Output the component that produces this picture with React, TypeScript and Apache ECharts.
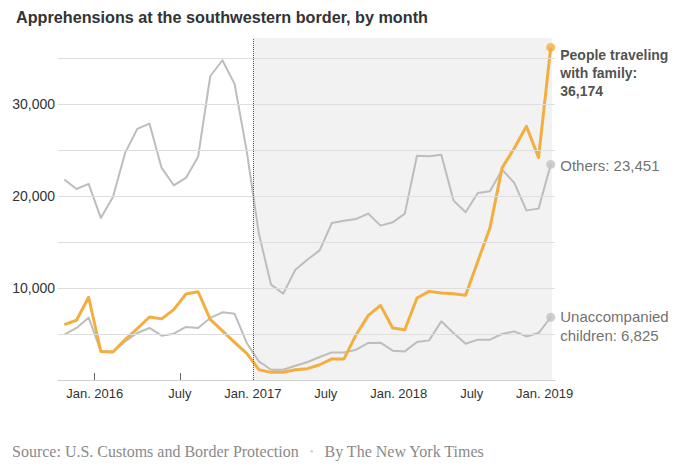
import React, { useEffect, useRef } from "react";
import * as echarts from "echarts";

// Months Oct 2015 .. Feb 2019 (index 0 .. 40)
const months: string[] = [
  "2015-10","2015-11","2015-12","2016-01","2016-02","2016-03","2016-04","2016-05","2016-06","2016-07","2016-08","2016-09",
  "2016-10","2016-11","2016-12","2017-01","2017-02","2017-03","2017-04","2017-05","2017-06","2017-07","2017-08","2017-09",
  "2017-10","2017-11","2017-12","2018-01","2018-02","2018-03","2018-04","2018-05","2018-06","2018-07","2018-08","2018-09",
  "2018-10","2018-11","2018-12","2019-01","2019-02",
];

const familyValues: number[] = [
  6030, 6500, 9000, 3100, 3050, 4400, 5600, 6850, 6650, 7650, 9350, 9600,
  6600, 5350, 4100, 2900, 1120, 830, 850, 1120, 1230, 1660, 2290, 2290,
  4930, 7030, 8120, 5660, 5470, 8920, 9640, 9470, 9390, 9210, 12900, 16540,
  23070, 25200, 27600, 24190, 36174,
];

const othersValues: number[] = [
  21800, 20780, 21330, 17630, 19910, 24700, 27310, 27890, 23070, 21180, 21980, 24270,
  33040, 34780, 32210, 24900, 15900, 10370, 9390, 12000, 13100, 14100, 17080, 17330,
  17520, 18100, 16790, 17150, 18100, 24400, 24330, 24500, 19540, 18240, 20350, 20520,
  22880, 21440, 18450, 18640, 23451,
];

const uacValues: number[] = [
  4930, 5660, 6780, 3150, 3080, 4200, 5110, 5660, 4820, 5040, 5770, 5660,
  6750, 7360, 7210, 4030, 2020, 1120, 1120, 1550, 1960, 2500, 3000, 3000,
  3300, 4030, 4060, 3190, 3110, 4130, 4310, 6380, 5110, 3950, 4390, 4390,
  5000, 5290, 4740, 5110, 6825,
];

const tickPositions: number[] = [2.5, 9.5, 15.5, 21.5, 27.5, 33.5, 39.5];
const tickLabels: string[] = ["Jan. 2016", "July", "Jan. 2017", "July", "Jan. 2018", "July", "Jan. 2019"];
const gridValues: number[] = [5000, 10000, 15000, 20000, 25000, 30000, 35000];
const inaugurationX = 15.5;

const ORANGE = "#f4ae3f";
const GRAY = "#bdbdbd";
const FONT = "'Liberation Sans', Arial, sans-serif";

const fmt = (v: number) => v.toLocaleString("en-US");

export default function App() {
  const ref = useRef<HTMLDivElement>(null);

  useEffect(() => {
    document.body.style.margin = "0";
    if (!ref.current) return;
    const chart = echarts.init(ref.current, null, { renderer: "svg" });
    const last = months.length - 1;
    const toPairs = (arr: number[]) => arr.map((v, i) => [i, v]);

    chart.setOption({
      animation: false,
      backgroundColor: "#ffffff",
      textStyle: { fontFamily: FONT },
      title: {
        text: "Apprehensions at the southwestern border, by month",
        left: 11,
        top: 4,
        textStyle: { fontFamily: FONT, fontSize: 16.2, fontWeight: "bold", color: "#333333" },
      },
      grid: { left: 58, right: 125, top: 38, bottom: 85, containLabel: false },
      xAxis: {
        type: "value",
        min: -0.52,
        max: 40.35,
        axisLine: { show: true, lineStyle: { color: "#d0d0d0", width: 1 } },
        axisTick: {
          show: true,
          inside: true,
          length: 7,
          customValues: tickPositions,
          lineStyle: { color: "#666666", width: 1 },
        },
        axisLabel: {
          show: true,
          customValues: tickPositions,
          margin: 7,
          fontSize: 13,
          fontFamily: FONT,
          color: "#333333",
          formatter: (v: number) => {
            const k = tickPositions.indexOf(v);
            return k >= 0 ? tickLabels[k] : "";
          },
        },
        splitLine: { show: false },
      },
      yAxis: {
        type: "value",
        min: 0,
        max: 37200,
        interval: 5000,
        axisLine: { show: false },
        axisTick: { show: false },
        splitLine: { show: false },
        axisLabel: {
          margin: 3,
          fontSize: 14,
          fontFamily: FONT,
          color: "#333333",
          formatter: (v: number) => (v > 0 && v % 10000 === 0 ? fmt(v) : ""),
        },
      },
      series: [
        {
          type: "line",
          z: 0,
          silent: true,
          data: [],
          markArea: {
            silent: true,
            itemStyle: { color: "#f2f2f2" },
            data: [[{ xAxis: inaugurationX }, { xAxis: 40.1 }]],
          },
        },
        {
          type: "line",
          z: 1,
          silent: true,
          data: [],
          markLine: {
            silent: true,
            symbol: "none",
            label: { show: false },
            lineStyle: { color: "#dedede", width: 1, type: "solid" },
            data: gridValues.map((v) => ({ yAxis: v })),
          },
        },
        {
          type: "line",
          z: 2,
          silent: true,
          data: [],
          markLine: {
            silent: true,
            symbol: "none",
            label: { show: false },
            lineStyle: { color: "#555555", width: 1, type: [1, 1] },
            data: [{ xAxis: inaugurationX }],
          },
        },
        {
          name: "Others",
          type: "line",
          z: 3,
          data: toPairs(othersValues),
          showSymbol: false,
          lineStyle: { color: GRAY, width: 2, join: "round" },
        },
        {
          name: "Unaccompanied children",
          type: "line",
          z: 3,
          data: toPairs(uacValues),
          showSymbol: false,
          lineStyle: { color: GRAY, width: 2, join: "round" },
        },
        {
          name: "People traveling with family",
          type: "line",
          z: 4,
          data: toPairs(familyValues),
          showSymbol: false,
          lineStyle: { color: ORANGE, width: 3, join: "round" },
        },
        {
          type: "scatter",
          z: 5,
          symbol: "circle",
          symbolSize: 9,
          itemStyle: { color: ORANGE },
          data: [[last, familyValues[last]]],
          label: {
            show: true,
            position: "right",
            distance: 5,
            offset: [0, 26],
            formatter: () => `People traveling\nwith family:\n${fmt(familyValues[last])}`,
            fontFamily: FONT,
            fontSize: 14,
            fontWeight: "bold",
            lineHeight: 18,
            color: "#222222",
          },
        },
        {
          type: "scatter",
          z: 5,
          symbol: "circle",
          symbolSize: 9,
          itemStyle: { color: "#c2c2c2" },
          data: [[last, othersValues[last]]],
          label: {
            show: true,
            position: "right",
            distance: 5,
            offset: [0, 1],
            formatter: () => `Others: ${fmt(othersValues[last])}`,
            fontFamily: FONT,
            fontSize: 15,
            color: "#4a4a4a",
          },
        },
        {
          type: "scatter",
          z: 5,
          symbol: "circle",
          symbolSize: 9,
          itemStyle: { color: "#c2c2c2" },
          data: [[last, uacValues[last]]],
          label: {
            show: true,
            position: "right",
            distance: 5,
            offset: [0, 9],
            formatter: () => `Unaccompanied\nchildren: ${fmt(uacValues[last])}`,
            fontFamily: FONT,
            fontSize: 15,
            lineHeight: 19,
            color: "#4a4a4a",
          },
        },
      ],
      graphic: [
        {
          type: "text",
          left: 12,
          top: 443,
          style: {
            text: "{a|Source: U.S. Customs and Border Protection}{b|    •    }{a|By The New York Times}",
            rich: {
              a: { fontFamily: "'Liberation Serif', 'DejaVu Serif', serif", fontSize: 16, fill: "#8a8a8a" },
              b: { fontFamily: "'Liberation Serif', serif", fontSize: 11, fill: "#cccccc" },
            },
          },
        },
      ],
    });

    return () => chart.dispose();
  }, []);

  return (
    <div
      ref={ref}
      style={{ position: "absolute", left: 0, top: 0, width: 680, height: 465 }}
    />
  );
}
